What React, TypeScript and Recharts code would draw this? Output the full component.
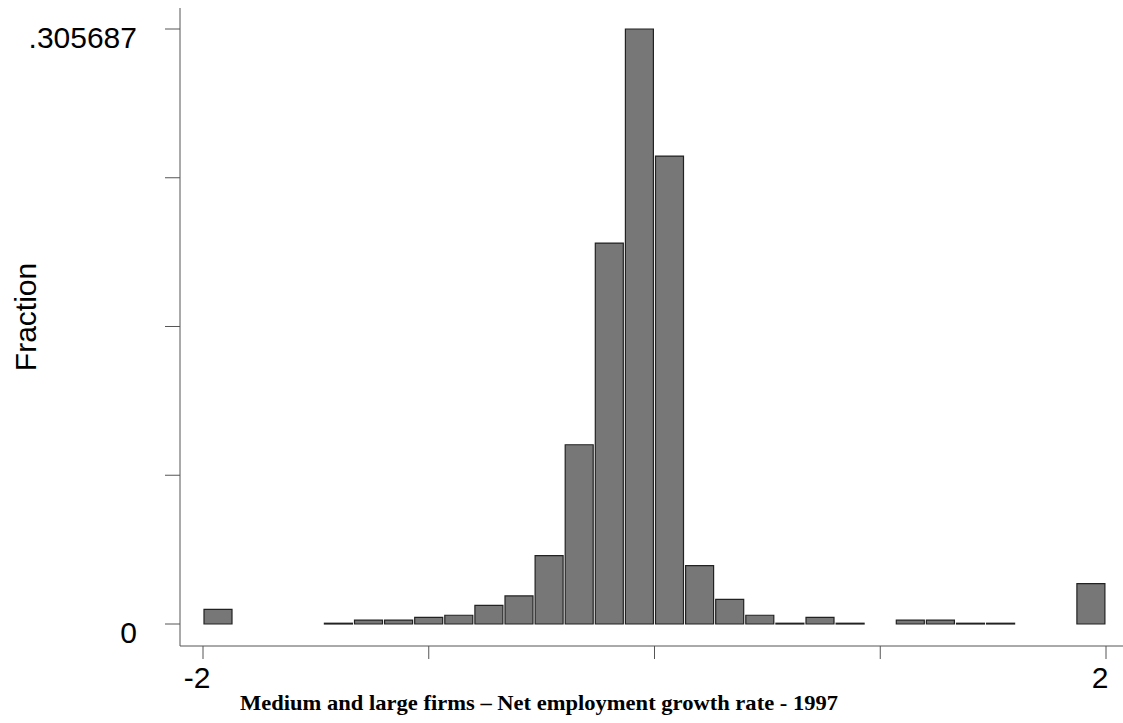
import { BarChart, Bar, XAxis, YAxis, Label } from 'recharts';

// bin midpoints of the 30 bins over [-2, 2]
const binMids = [
  -1.9333, -1.8, -1.6667, -1.5333, -1.4, -1.2667, -1.1333, -1.0, -0.8667, -0.7333,
  -0.6, -0.4667, -0.3333, -0.2, -0.0667, 0.0667, 0.2, 0.3333, 0.4667, 0.6,
  0.7333, 0.8667, 1.0, 1.1333, 1.2667, 1.4, 1.5333, 1.6667, 1.8, 1.9333,
];

const fractions = [
  0.0075, 0, 0, 0, 0.0004, 0.002, 0.002, 0.0034, 0.0045, 0.0096,
  0.0144, 0.0351, 0.0921, 0.1957, 0.305687, 0.2404, 0.03, 0.0127, 0.0045, 0.0004,
  0.0034, 0.0004, 0, 0.002, 0.002, 0.0004, 0.0004, 0, 0, 0.0207,
];

const xTicks = [-2, -1, 0, 1, 2];
const xTickLabels = ['-2', '', '', '', '2'];
const yTicks = [0, 0.076422, 0.152844, 0.229265, 0.305687];
const yTickLabels = ['0', '', '', '', '.305687'];

const xTitle = 'Medium and large firms \u2013 Net employment growth rate - 1997';
const yTitle = 'Fraction';

const data = binMids.map((mid, i) => ({ bin: String(i), mid, frac: fractions[i] }));

const axisColor = '#555';
const sans = '"Liberation Sans", Arial, sans-serif';
const pad = { left: 23, right: 17 };

export default function App() {
  return (
    <div style={{ position: 'absolute', left: 0, top: 0, background: '#fff' }}>
      <BarChart
        width={1123}
        height={723}
        data={data}
        margin={{ top: 8, right: 0, bottom: 0, left: 0 }}
        barCategoryGap={1}
      >
        <XAxis xAxisId="bins" dataKey="bin" type="category" hide height={0} padding={pad} />
        <XAxis
          xAxisId="val"
          dataKey="mid"
          type="number"
          domain={[-2, 2]}
          ticks={xTicks}
          padding={pad}
          height={77}
          tickSize={13}
          tickMargin={8}
          stroke={axisColor}
          tickLine={{ stroke: axisColor }}
          tick={{ fill: '#000', fontSize: 30, fontFamily: sans, dx: -6 }}
          tickFormatter={(v: number) => xTickLabels[xTicks.indexOf(v)] ?? ''}
        >
          <Label
            content={() => (
              <text
                x={539}
                y={710}
                textAnchor="middle"
                textLength={598}
                lengthAdjust="spacingAndGlyphs"
                style={{ fontFamily: '"Liberation Serif", "Times New Roman", serif', fontWeight: 'bold', fontSize: 21, fill: '#000' }}
              >
                {xTitle}
              </text>
            )}
          />
        </XAxis>
        <YAxis
          type="number"
          domain={[0, 0.305687]}
          ticks={yTicks}
          width={180}
          padding={{ top: 21, bottom: 22 }}
          tickSize={15}
          tickMargin={28}
          stroke={axisColor}
          tickLine={{ stroke: axisColor }}
          tick={{ fill: '#000', fontSize: 30, fontFamily: sans, dy: 8 }}
          tickFormatter={(v: number) => yTickLabels[yTicks.indexOf(v)] ?? ''}
        >
          <Label
            content={() => (
              <text
                x={25}
                y={317}
                textAnchor="middle"
                dominantBaseline="central"
                transform="rotate(-90 25 317)"
                style={{ fontFamily: sans, fontSize: 30, fill: '#000' }}
              >
                {yTitle}
              </text>
            )}
          />
        </YAxis>
        <Bar
          xAxisId="bins"
          dataKey="frac"
          fill="#777777"
          stroke="#222"
          strokeWidth={1.2}
          isAnimationActive={false}
        />
      </BarChart>
    </div>
  );
}
